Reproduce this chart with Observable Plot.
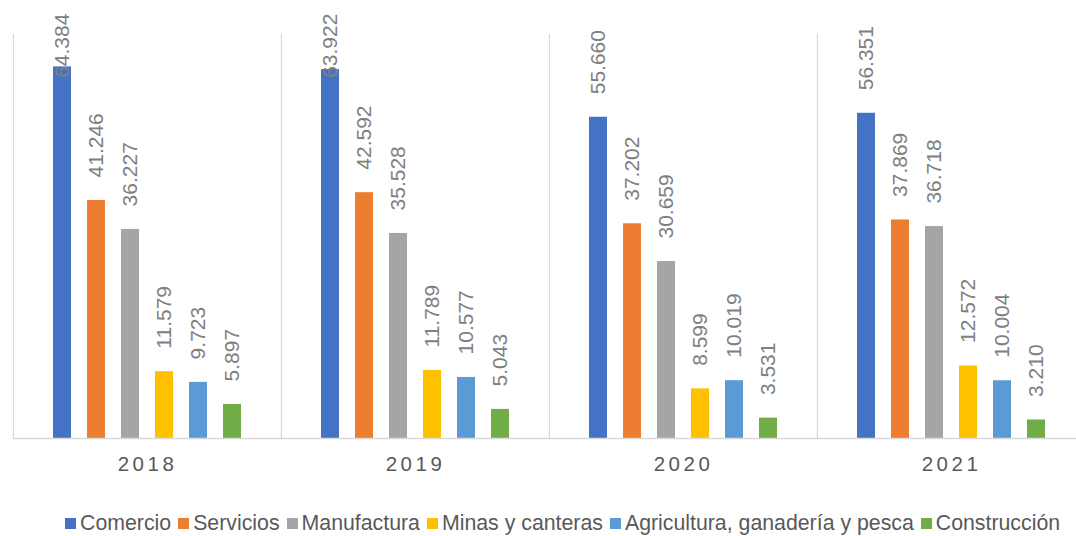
<!DOCTYPE html>
<html>
<head>
<meta charset="utf-8">
<script src="https://cdn.jsdelivr.net/npm/d3@7"></script>
<script src="https://cdn.jsdelivr.net/npm/@observablehq/plot@0.6"></script>
<style>
  body { margin: 0; background: #fff; font-family: "Liberation Sans", Arial, sans-serif; }
  #wrap { position: relative; width: 1076px; height: 536px; overflow: hidden; }
  #legend { position: absolute; left: 65px; top: 511px; white-space: nowrap; font-size: 21.3px; color: #595959; line-height: 24px; }
  #legend span.sw { display: inline-block; width: 11px; height: 11px; margin-right: 4px; vertical-align: 1px; }
  #legend span.item { margin-right: 7px; }
  svg .yearaxis, svg .yearaxis text { font-size: 20.5px !important; letter-spacing: 3.5px; fill: #595959; }
</style>
</head>
<body>
<div id="wrap"><div id="chart"></div><div id="legend"></div></div>
<script>
const years = ["2018", "2019", "2020", "2021"];
const sectors = ["Comercio", "Servicios", "Manufactura", "Minas y canteras", "Agricultura, ganadería y pesca", "Construcción"];
const colors = ["#4472C4", "#ED7D31", "#A5A5A5", "#FFC000", "#5B9BD5", "#70AD47"];
const values2018 = [64.384, 41.246, 36.227, 11.579, 9.723, 5.897];
const values2019 = [63.922, 42.592, 35.528, 11.789, 10.577, 5.043];
const values2020 = [55.660, 37.202, 30.659, 8.599, 10.019, 3.531];
const values2021 = [56.351, 37.869, 36.718, 12.572, 10.004, 3.210];
const labelCap = 58.5; // labels of the tallest bars are kept inside the chart area

const series = [values2018, values2019, values2020, values2021];
const data = [];
years.forEach((yr, i) => sectors.forEach((s, j) => data.push({year: yr, sector: s, value: series[i][j]})));

const chart = Plot.plot({
  width: 1076,
  height: 500,
  marginTop: 34,
  marginBottom: 62,
  marginLeft: 11,
  marginRight: -10,
  style: {fontFamily: "'Liberation Sans', Arial, sans-serif", background: "#fff"},
  fx: {domain: years, padding: 0, label: null},
  x: {domain: sectors, paddingInner: 0.474, paddingOuter: 1.166, axis: null},
  y: {domain: [0, 70], axis: null},
  color: {domain: sectors, range: colors},
  marks: [
    Plot.frame({anchor: "left", stroke: "#d9d9d9", strokeWidth: 1.3}),
    Plot.barY(data, {fx: "year", x: "sector", y: "value", fill: "sector"}),
    Plot.ruleY([0], {stroke: "#d9d9d9", strokeWidth: 1.3}),
    Plot.text(data, {
      fx: "year", x: "sector",
      y: d => Math.min(d.value, labelCap),
      text: d => d.value.toFixed(3),
      rotate: -90, textAnchor: "start", dy: -23,
      fontSize: 21, fill: "#808080"
    }),
    Plot.axisFx({anchor: "bottom", tickSize: 0, tickPadding: 18, fontSize: 20.5, fill: "#595959", label: null, className: "yearaxis"})
  ]
});
document.getElementById("chart").appendChild(chart);

const legend = document.getElementById("legend");
sectors.forEach((s, i) => {
  const item = document.createElement("span");
  item.className = "item";
  const sw = document.createElement("span");
  sw.className = "sw";
  sw.style.background = colors[i];
  item.appendChild(sw);
  item.appendChild(document.createTextNode(s));
  legend.appendChild(item);
});
</script>
</body>
</html>
